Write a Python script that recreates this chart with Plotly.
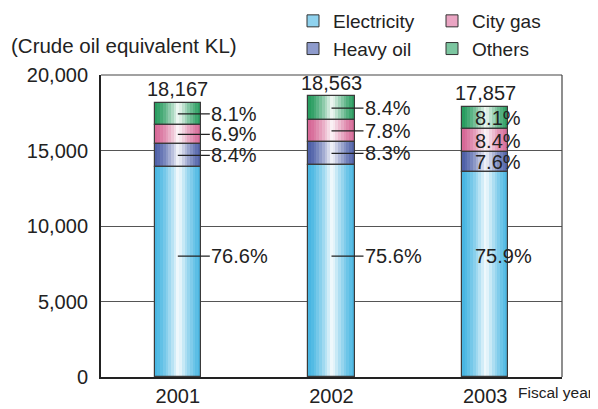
import plotly.graph_objects as go

# ---- data ----
years = ["2001", "2002", "2003"]
totals = [18167, 18563, 17857]
series_names = ["Electricity", "Heavy oil", "City gas", "Others"]
pct_electricity = [76.6, 75.6, 75.9]
pct_heavy_oil = [8.4, 8.3, 7.6]
pct_city_gas = [6.9, 7.8, 8.4]
pct_others = [8.1, 8.4, 8.1]
y_ticks = [0, 5000, 10000, 15000, 20000]
y_tick_labels = ["0", "5,000", "10,000", "15,000", "20,000"]

pcts = [pct_electricity, pct_heavy_oil, pct_city_gas, pct_others]
edge_colors = [(72, 182, 226), (78, 96, 168), (214, 104, 150), (40, 156, 95)]
legend_colors = ["#8fd2ee", "#8e9bcc", "#eaa5c3", "#7cc6a0"]
legend_ids = ["legend", "legend", "legend2", "legend2"]

FONT = "Liberation Sans, Arial, sans-serif"
BAR_W = 0.3
N_STRIPS = 17

# page body has an 8px margin: shift the figure so the plot area lands right
PAGE_OFF = 8
W, H = 598 - PAGE_OFF, 409 - PAGE_OFF
ML, MR, MT, MB = 101 - PAGE_OFF, 36, 75 - PAGE_OFF, 32
PW, PH = W - ML - MR, H - MT - MB

# segment values (KL) from totals and shares
values = [[t * p / 100.0 for t, p in zip(totals, s)] for s in pcts]
bases = []
cum = [0.0] * len(years)
for v in values:
    bases.append(cum[:])
    cum = [c + x for c, x in zip(cum, v)]


def blend(edge, t):
    k = 0.95 * (1 - t) ** 1.4
    return "rgb(%d,%d,%d)" % tuple(int(round(e + (255 - e) * k)) for e in edge)


fig = go.Figure()
for si in range(len(series_names)):
    fig.add_trace(go.Bar(
        x=years, y=values[si], base=bases[si], name=series_names[si], width=BAR_W,
        marker=dict(color=legend_colors[si], line=dict(color="#333", width=1)),
        hoverinfo="skip", showlegend=True, legend=legend_ids[si],
        legendgroup=series_names[si],
    ))
for si in range(len(series_names)):
    sw = BAR_W / N_STRIPS
    for k in range(N_STRIPS):
        cpos = -BAR_W / 2 + (k + 0.5) * sw
        t = min(1.0, abs(cpos - 0.005) / (BAR_W / 2))
        fig.add_trace(go.Bar(
            x=years, y=values[si], base=bases[si],
            width=sw * 1.08, offset=-BAR_W / 2 + k * sw - sw * 0.04,
            marker=dict(color=blend(edge_colors[si], t), line=dict(width=0)),
            showlegend=False, hoverinfo="skip",
        ))
for si in range(len(series_names)):
    fig.add_trace(go.Bar(
        x=years, y=values[si], base=bases[si], width=BAR_W,
        marker=dict(color="rgba(0,0,0,0)", line=dict(color="#3a3a3a", width=1.2)),
        showlegend=False, hoverinfo="skip",
    ))

LBL = dict(family=FONT, size=20, color="#222")
annotations = []
for si in range(len(series_names)):
    for yi in range(len(years)):
        ypos = 8000 if si == 0 else bases[si][yi] + values[si][yi] / 2
        txt = "%.1f%%" % pcts[si][yi]
        if yi < 2:
            annotations.append(dict(
                x=yi, y=ypos, xref="x", yref="y", text=txt, showarrow=True,
                arrowhead=0, arrowwidth=1.3, arrowcolor="#222", ax=32, ay=0,
                axref="pixel", ayref="pixel",
                xanchor="left", yanchor="middle", borderpad=0, font=LBL,
            ))
        else:
            annotations.append(dict(
                x=yi, y=ypos, xref="x", yref="y", text=txt, showarrow=False,
                xanchor="left", yanchor="middle", xshift=-12, font=LBL,
            ))
for yi in range(len(years)):
    annotations.append(dict(
        x=yi, y=totals[yi], xref="x", yref="y", text=f"{totals[yi]:,}",
        showarrow=False, yanchor="bottom", yshift=2, borderpad=0, font=LBL,
    ))
annotations.append(dict(
    x=(9 - 101) / PW, y=1, xref="paper", yref="paper", xanchor="left", yanchor="bottom",
    yshift=16, text="(Crude oil equivalent KL)", showarrow=False,
    font=dict(family=FONT, size=20.5, color="#222"),
))
annotations.append(dict(
    x=(595 - 101) / PW, y=0, xref="paper", yref="paper", xanchor="right", yanchor="top",
    yshift=-5, text="Fiscal year", showarrow=False,
    font=dict(family=FONT, size=15.5, color="#222"),
))

LEG = dict(
    orientation="v", xanchor="left", yanchor="top", xref="paper", yref="paper",
    y=1 + (MT + 6) / PH, font=dict(family=FONT, size=19, color="#222"),
    bgcolor="rgba(0,0,0,0)", traceorder="normal", tracegroupgap=4,
)
fig.update_layout(
    width=W, height=H,
    margin=dict(l=ML, r=MR, t=MT, b=MB, autoexpand=False),
    barmode="overlay",
    bargap=0,
    paper_bgcolor="white", plot_bgcolor="white",
    font=dict(family=FONT, size=20, color="#222"),
    showlegend=True,
    legend=dict(LEG, x=(285 - ML) / PW),
    legend2=dict(LEG, x=(424 - ML) / PW),
    annotations=annotations,
)

fig.update_xaxes(
    type="category", range=[-0.5, 2.5], showline=True, linecolor="#222", linewidth=2,
    mirror=False, ticks="", showgrid=False, tickfont=dict(family=FONT, size=20, color="#222"),
    ticklabelstandoff=0,
)
fig.update_yaxes(
    range=[0, 20000], tickvals=y_ticks, ticktext=y_tick_labels,
    showline=True, linecolor="#222", linewidth=2, mirror=False,
    showgrid=True, gridcolor="#555", gridwidth=1, zeroline=False, ticks="",
    tickfont=dict(family=FONT, size=20, color="#222"), ticklabelstandoff=7,
)
fig.add_shape(type="line", xref="paper", yref="paper", x0=0, x1=1, y0=1, y1=1,
              line=dict(color="#444", width=1.2))
fig.add_shape(type="line", xref="paper", yref="paper", x0=1, x1=1, y0=0, y1=1,
              line=dict(color="#444", width=1.2))

fig.write_html("out.html")
